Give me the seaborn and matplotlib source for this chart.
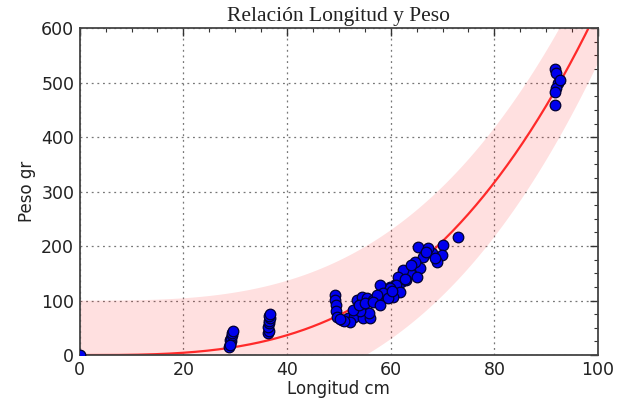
import numpy as np
import pandas as pd
import matplotlib
matplotlib.use("Agg")
import matplotlib.pyplot as plt
import seaborn as sns
from matplotlib.ticker import MultipleLocator

# Longitud (cm) y peso (gr) de los ejemplares medidos
longitud = [0.0,
            28.8, 29.0, 29.1, 28.9, 29.2, 29.3, 29.4, 29.5, 29.0,
            36.3, 36.5, 36.4, 36.6, 36.5, 36.7, 36.6, 36.8,
            49.2, 49.2, 49.5, 49.5, 49.6, 50.5, 51.8, 53.0, 54.7, 56.0,
            55.8, 54.0, 52.8, 53.4, 54.4, 55.4, 56.6, 57.9, 58.9, 59.8,
            61.1, 62.0, 52.1, 51.0, 50.2, 53.8, 55.0,
            73.0, 70.1, 69.8, 68.9, 67.9, 65.3, 67.2, 66.3, 65.6, 64.7,
            63.7, 65.0, 62.4, 61.4, 61.1, 59.8, 57.9, 58.5, 57.3, 61.8,
            60.5, 59.4, 56.6, 57.9, 63.0, 64.0, 66.8, 68.5, 60.2, 62.8,
            91.7, 91.9, 92.3, 91.8, 91.6, 91.7, 92.6]
peso = [0,
        15, 20, 25, 28, 32, 36, 40, 44, 18,
        40, 45, 52, 58, 63, 68, 72, 75,
        110, 101, 92, 80, 70, 64, 68, 70, 68, 68,
        77, 80, 83, 101, 107, 104, 101, 110, 116, 125,
        131, 134, 60, 62, 66, 92, 95,
        216, 202, 183, 171, 187, 199, 196, 180, 160, 171,
        150, 144, 156, 144, 128, 123, 128, 113, 110, 116,
        107, 104, 98, 92, 138, 165, 190, 178, 118, 140,
        526, 517, 499, 490, 483, 459, 505]

# Ajuste potencial W = a * L^b y semiancho de la banda de predicción
coef_a = 3.66e-4
coef_b = 3.12
banda = 100.0

df = pd.DataFrame({"Longitud": longitud, "Peso": peso})
L = np.linspace(0, 100, 400)
W = coef_a * L ** coef_b
ajuste = pd.DataFrame({"Longitud": L, "Peso": W})

sns.set_style("white")
plt.rcParams["font.family"] = ["DejaVu Sans"]

fig = plt.figure(figsize=(6.23, 4.03), dpi=100)
ax = fig.add_axes([0.128, 0.119, 0.832, 0.811])

ax.fill_between(L, W - banda, W + banda, color="#ff0000", alpha=0.12,
                linewidth=0, zorder=1)
sns.lineplot(data=ajuste, x="Longitud", y="Peso", color="#ff2a2a",
             linewidth=1.6, ax=ax, zorder=2)
sns.scatterplot(data=df, x="Longitud", y="Peso", color="#0000ee",
                edgecolor="#000033", linewidth=0.9, s=58, ax=ax, zorder=3)

ax.set_xlim(0, 100)
ax.set_ylim(0, 600)
ax.xaxis.set_major_locator(MultipleLocator(20))
ax.xaxis.set_minor_locator(MultipleLocator(5))
ax.yaxis.set_major_locator(MultipleLocator(100))
ax.yaxis.set_minor_locator(MultipleLocator(25))
ax.tick_params(which="both", direction="in", top=True, right=True,
               colors="#333333", labelcolor="#222222")
ax.tick_params(which="major", length=6, width=1, labelsize=12.5, pad=4)
ax.tick_params(which="minor", length=3, width=0.8)
ax.grid(True, which="major", linestyle=(0, (1.5, 3)), color="#777777",
        linewidth=0.9)
for s in ax.spines.values():
    s.set_color("#444444")
    s.set_linewidth(1.3)

ax.set_xlabel("Longitud cm", fontsize=12, color="#222222", labelpad=1)
ax.set_ylabel("Peso gr", fontsize=12, color="#222222")
ax.set_title("Relación Longitud y Peso", fontsize=15.5, pad=5,
             family=["Liberation Serif"], color="#222222")

fig.savefig("out.png", dpi=100)
